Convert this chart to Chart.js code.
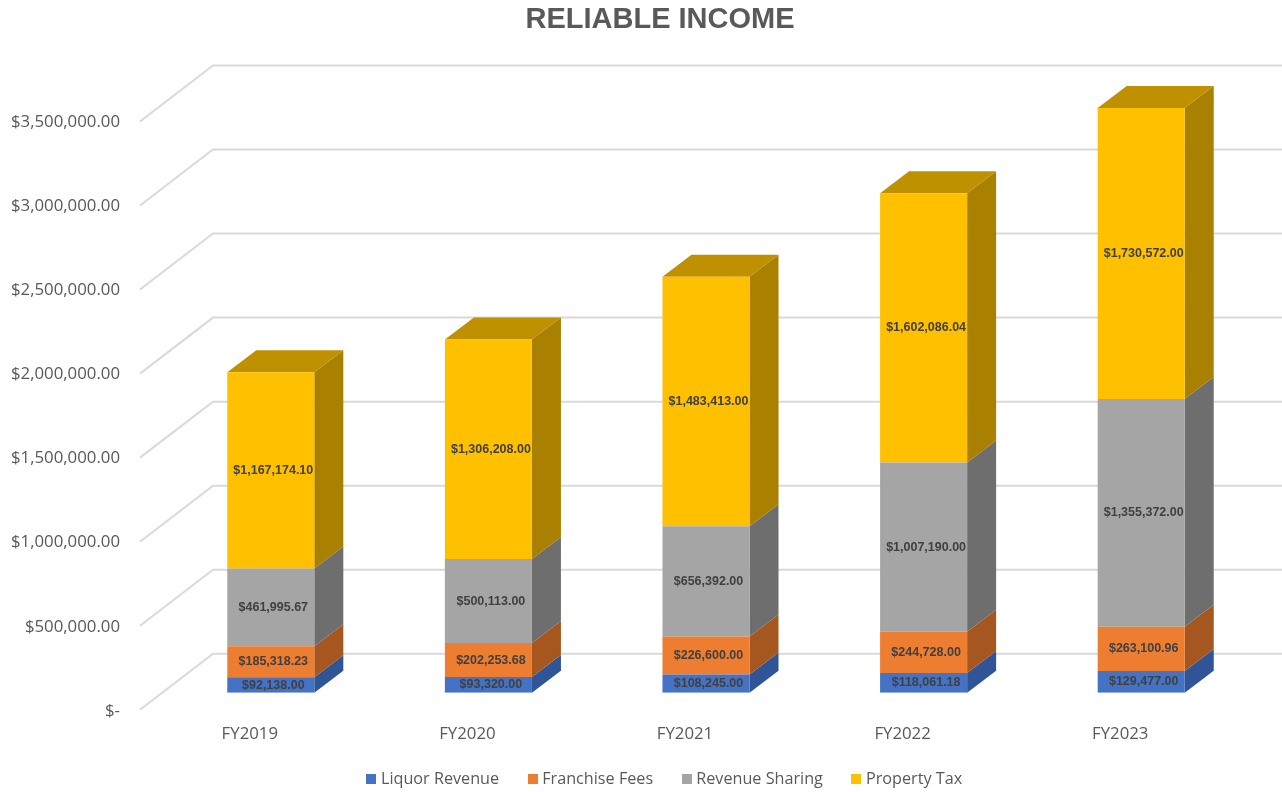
<!DOCTYPE html>
<html>
<head>
<meta charset="utf-8">
<style>html,body{margin:0;padding:0;background:#fff;overflow:hidden}#wrap{width:1282px;height:792px}</style>
<script src="https://cdn.jsdelivr.net/npm/chart.js@4/dist/chart.umd.min.js"></script>
</head>
<body>
<div id="wrap"><canvas id="c" width="1282" height="792"></canvas></div>
<script>
const categories = ['FY2019','FY2020','FY2021','FY2022','FY2023'];
const liquorRevenue = [92138.00, 93320.00, 108245.00, 118061.18, 129477.00];
const franchiseFees = [185318.23, 202253.68, 226600.00, 244728.00, 263100.96];
const revenueSharing = [461995.67, 500113.00, 656392.00, 1007190.00, 1355372.00];
const propertyTax = [1167174.10, 1306208.00, 1483413.00, 1602086.04, 1730572.00];
const yTicks = [0,500000,1000000,1500000,2000000,2500000,3000000,3500000];

const frontColors = ['#4472C4','#ED7D31','#A5A5A5','#FFC000'];
const sideColors = ['#2F5597','#A5571F','#6E6E6E','#AA8000'];
const topColor = '#BF9000';
const gridColor = '#D9D9D9';
const WALL = {dx:73, dy:-56};
const BAR_SHIFT = {dx:21, dy:-17};
const BAR_DEPTH = {dx:29, dy:-22};
const LABEL_DX = 2.5;

const money = new Intl.NumberFormat('en-US',{minimumFractionDigits:2,maximumFractionDigits:2});

const poly = (ctx, pts, fill) => {
  ctx.beginPath();
  pts.forEach((p,i)=> i ? ctx.lineTo(p[0],p[1]) : ctx.moveTo(p[0],p[1]));
  ctx.closePath();
  ctx.fillStyle = fill;
  ctx.fill();
};

const swatch = color => {
  const s = document.createElement('canvas');
  s.width = 10; s.height = 10;
  const g = s.getContext('2d');
  g.fillStyle = color;
  g.fillRect(0,0,10,10);
  return s;
};

const threeD = {
  id:'threeD',
  afterLayout(chart){
    chart.titleBlock.left = 38; chart.titleBlock.right = 1282;
    const l = chart.legend;
    l.left = 50; l.right = 1282;
    l.adjustHitBoxes();
    chart.scales.x.bottom = chart.scales.x.top + 50;
  },
  beforeDatasetsDraw(chart){
    const {ctx, scales:{x,y}} = chart;
    ctx.save();
    ctx.strokeStyle = gridColor;
    ctx.lineWidth = 2;
    yTicks.forEach(v=>{
      const py = y.getPixelForValue(v);
      ctx.beginPath();
      ctx.moveTo(x.left-1, py);
      ctx.lineTo(x.left-1+WALL.dx, py+WALL.dy);
      ctx.lineTo(1282, py+WALL.dy);
      ctx.stroke();
    });
    ctx.translate(BAR_SHIFT.dx, BAR_SHIFT.dy);
    chart.data.datasets.forEach((ds,i)=>{
      chart.getDatasetMeta(i).data.forEach(b=>{
        const r = b.x + b.width/2, l = b.x - b.width/2;
        poly(ctx, [[r,b.y],[r+BAR_DEPTH.dx,b.y+BAR_DEPTH.dy],[r+BAR_DEPTH.dx,b.base+BAR_DEPTH.dy],[r,b.base]], sideColors[i]);
        if(i === chart.data.datasets.length-1){
          poly(ctx, [[l,b.y],[l+BAR_DEPTH.dx,b.y+BAR_DEPTH.dy],[r+BAR_DEPTH.dx,b.y+BAR_DEPTH.dy],[r,b.y]], topColor);
        }
      });
    });
  },
  afterDatasetsDraw(chart){
    const {ctx} = chart;
    ctx.font = 'bold 12.5px "Liberation Sans"';
    ctx.textAlign = 'center';
    ctx.textBaseline = 'middle';
    ctx.fillStyle = '#404040';
    chart.data.datasets.forEach((ds,i)=>{
      chart.getDatasetMeta(i).data.forEach((b,j)=>{
        ctx.fillText('$'+money.format(ds.data[j]), b.x+LABEL_DX, (b.y+b.base)/2);
      });
    });
    ctx.restore();
  }
};

const seriesNames = ['Liquor Revenue','Franchise Fees','Revenue Sharing','Property Tax'];
const seriesValues = [liquorRevenue, franchiseFees, revenueSharing, propertyTax];

new Chart(document.getElementById('c'),{
  type:'bar',
  data:{
    labels:categories,
    datasets:seriesNames.map((n,i)=>({
      label:n, data:seriesValues[i], backgroundColor:frontColors[i], borderWidth:0,
      barPercentage:1, categoryPercentage:0.4
    }))
  },
  plugins:[threeD],
  options:{
    responsive:false,
    animation:false,
    layout:{padding:{left:0,right:53,top:3,bottom:-5}},
    plugins:{
      tooltip:{enabled:false},
      title:{display:true,text:'RELIABLE INCOME',color:'#595959',
        font:{family:'"Liberation Sans"',size:29,weight:'bold'},padding:{top:0,bottom:33.2}},
      legend:{position:'bottom',
        labels:{usePointStyle:true,pointStyleWidth:3,boxHeight:10,padding:32,color:'#595959',
          font:{family:'"Open Sans"',size:16.2},
          generateLabels(chart){
            return Chart.defaults.plugins.legend.labels.generateLabels(chart)
              .map((it,i)=>({...it,pointStyle:swatch(frontColors[i])}));
          }}}
    },
    scales:{
      x:{stacked:true,grid:{display:false},border:{display:false},
        afterFit(s){s.height=29},
        ticks:{color:'#595959',padding:6,maxRotation:0,font:{family:'"Open Sans"',size:16.8}}},
      y:{stacked:true,min:0,max:3800000,grid:{display:false},border:{display:false},
        afterFit(s){s.width=141},
        afterBuildTicks(s){s.ticks=yTicks.map(v=>({value:v}))},
        ticks:{color:'#595959',padding:13,labelOffset:1,font:{family:'"Open Sans"',size:16.8},
          callback:v=> v===0 ? '$-' : '$'+money.format(v)}}
    }
  }
});
</script>
</body>
</html>
